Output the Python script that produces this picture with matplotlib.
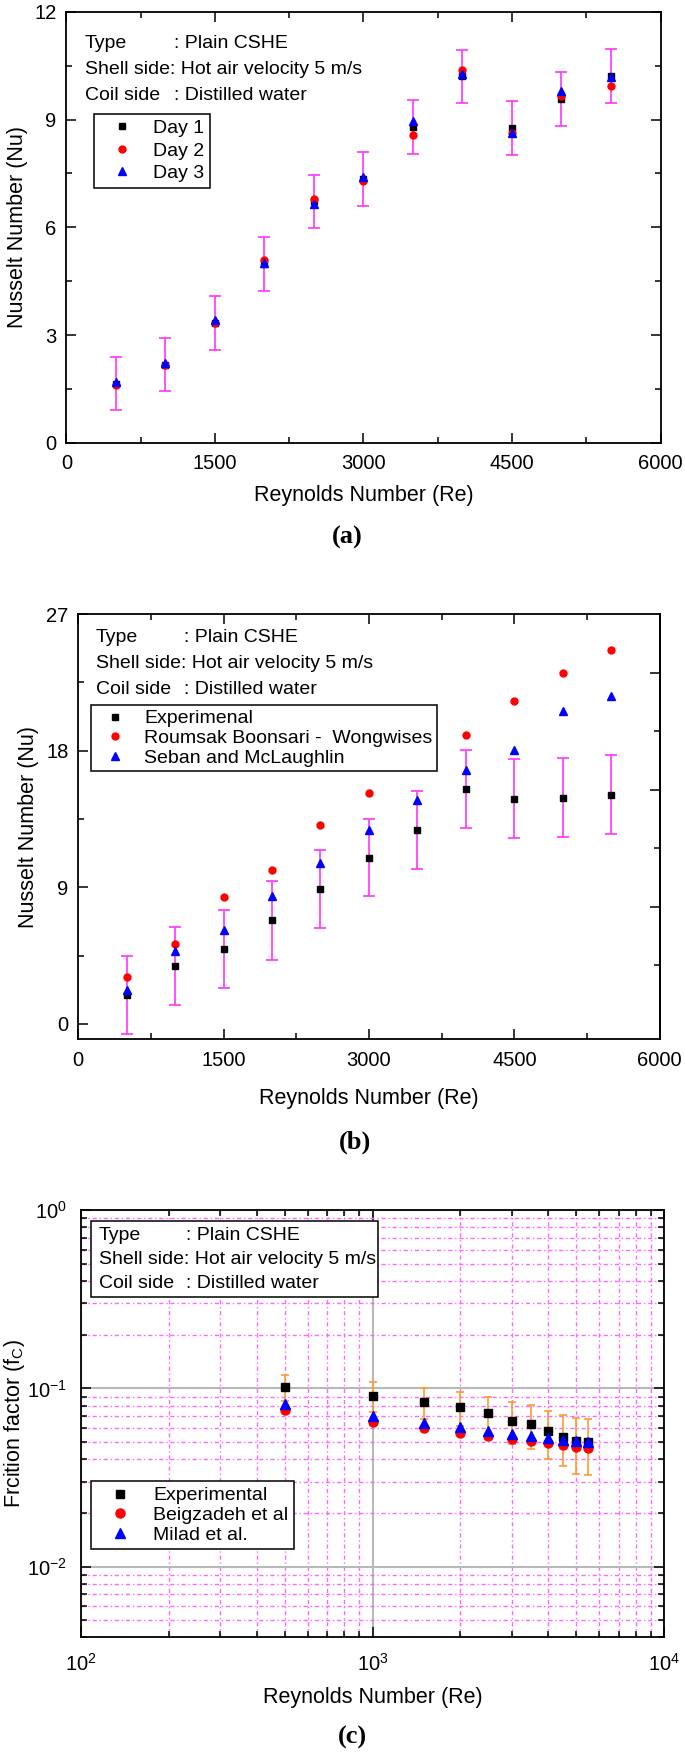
import numpy as np
import matplotlib
matplotlib.use("Agg")
import matplotlib.pyplot as plt
from matplotlib.patches import Rectangle
from matplotlib.ticker import MultipleLocator, LogLocator, NullFormatter, FixedLocator

plt.rcParams['font.family'] = ['Liberation Sans', 'DejaVu Sans']
plt.rcParams['mathtext.fontset'] = 'custom'
plt.rcParams['mathtext.rm'] = 'Liberation Sans'
plt.rcParams['mathtext.it'] = 'Liberation Sans:italic'
plt.rcParams['mathtext.default'] = 'regular'

# data
re = [500, 1000, 1500, 2000, 2500, 3000, 3500, 4000, 4500, 5000, 5500]

# (a) repeatability, three days
nu_day1 = [1.65, 2.18, 3.34, 4.98, 6.72, 7.35, 8.79, 10.20, 8.77, 9.56, 10.21]
nu_day2 = [1.62, 2.17, 3.33, 5.10, 6.78, 7.28, 8.57, 10.38, 8.62, 9.66, 9.93]
nu_day3 = [1.69, 2.22, 3.43, 5.00, 6.66, 7.41, 8.97, 10.26, 8.62, 9.80, 10.19]
nu_day1_err = [0.75, 0.75, 0.75, 0.75, 0.75, 0.75, 0.75, 0.75, 0.75, 0.75, 0.75]

# (b) Nusselt number vs correlations
nu_exp = [1.92, 3.83, 4.90, 6.82, 8.89, 10.96, 12.79, 15.47, 14.85, 14.91, 15.10]
nu_exp_err = [2.58, 2.58, 2.57, 2.58, 2.57, 2.56, 2.58, 2.57, 2.58, 2.58, 2.60]
nu_roumsak = [3.08, 5.29, 8.39, 10.15, 13.11, 15.19, np.nan, 19.06, 21.31, 23.12, 24.62]
nu_seban = [2.23, 4.82, 6.18, 8.44, 10.60, 12.75, 14.77, 16.75, 18.07, 20.65, 21.60]

# (c) friction factor
f_exp = [0.1017, 0.0910, 0.0839, 0.0781, 0.0723, 0.0660, 0.0629, 0.0574, 0.0536, 0.0506, 0.0501]
f_exp_err = [0.0172, 0.0170, 0.0170, 0.0170, 0.0175, 0.0175, 0.0175, 0.0174, 0.0171, 0.0175, 0.0176]
f_beig = [0.0754, 0.0650, 0.0602, 0.0565, 0.0539, 0.0518, 0.0504, 0.0494, 0.0480, 0.0471, 0.0464]
f_milad = [0.0819, 0.0702, 0.0638, 0.0608, 0.0579, 0.0557, 0.0542, 0.0526, 0.0516, 0.0506, 0.0501]

W, H = 685, 1754
fig = plt.figure(figsize=(W / 100, H / 100), dpi=100)
fig.patch.set_facecolor('white')

MAGENTA = '#ff33ff'
ORANGE = '#ff9933'
TICK_FS = 14.5
LABEL_FS = 15.5
TEXT_FS = 14


def add_ax(left, top, right, bottom):
    return fig.add_axes([left / W, 1 - bottom / H, (right - left) / W, (bottom - top) / H])


def ftext(x, y, s, **kw):
    fig.text(x / W, 1 - y / H, s, **kw)


def style_ax(ax, tick_pad_x, tick_pad_y):
    for sp in ax.spines.values():
        sp.set_linewidth(1.3)
    ax.tick_params(which='both', direction='in', top=True, right=True,
                   width=1.1, labelsize=TICK_FS)
    ax.tick_params(which='major', length=7)
    ax.tick_params(which='minor', length=4)
    ax.tick_params(axis='x', pad=tick_pad_x)
    ax.tick_params(axis='y', pad=tick_pad_y)


def info_lines(x, ys, colon_dx):
    ftext(x, ys[0], 'Type', fontsize=TEXT_FS, va='center')
    ftext(x + colon_dx, ys[0], ': Plain CSHE', fontsize=TEXT_FS, va='center')
    ftext(x, ys[1], 'Shell side: Hot air velocity 5 m/s', fontsize=TEXT_FS, va='center')
    ftext(x, ys[2], 'Coil side', fontsize=TEXT_FS, va='center')
    ftext(x + colon_dx, ys[2], ': Distilled water', fontsize=TEXT_FS, va='center')


# ---------------- (a) ----------------
ax1 = add_ax(66.4, 11.8, 660.5, 442.8)
ax1.errorbar(re, nu_day1, yerr=nu_day1_err, fmt='none', ecolor=MAGENTA,
             elinewidth=1.2, capsize=4, capthick=1.2, zorder=2)
ax1.plot(re, nu_day1, 's', color='black', ms=4.5, label='Day 1', zorder=3)
ax1.plot(re, nu_day2, 'o', color='red', ms=5, label='Day 2', zorder=4)
ax1.plot(re, nu_day3, '^', color='blue', ms=5.5, label='Day 3', zorder=5)
ax1.set_xlim(0, 6000)
ax1.set_ylim(0, 12)
ax1.xaxis.set_major_locator(MultipleLocator(1500))
ax1.xaxis.set_minor_locator(MultipleLocator(750))
ax1.yaxis.set_major_locator(MultipleLocator(3))
ax1.yaxis.set_minor_locator(MultipleLocator(1.5))
style_ax(ax1, 8, 7)
ax1.set_xlabel('Reynolds Number (Re)', fontsize=LABEL_FS)
ax1.set_ylabel('Nusselt Number (Nu)', fontsize=LABEL_FS)
ax1.xaxis.set_label_coords(0.5, -0.097)
ax1.yaxis.set_label_coords(-0.065, 0.5)
leg = ax1.legend(loc='upper left', bbox_to_anchor=(0.0465, 0.7638), borderaxespad=0,
                 fontsize=TEXT_FS, frameon=True, fancybox=False, edgecolor='black',
                 framealpha=1, handlelength=2.3, handletextpad=0.45, borderpad=0.3,
                 labelspacing=0.25, numpoints=1)
leg.get_frame().set_linewidth(1.1)
info_lines(85, [43, 69, 96], 89)
ftext(347, 537, '(a)', fontsize=19, fontweight='bold', family='Liberation Serif',
      ha='center', va='center')

# ---------------- (b) ----------------
ax2 = add_ax(78.2, 614.2, 659.7, 1039)
ax2.errorbar(re, nu_exp, yerr=nu_exp_err, fmt='none', ecolor=MAGENTA,
             elinewidth=1.2, capsize=4, capthick=1.2, zorder=2)
ax2.plot(re, nu_exp, 's', color='black', ms=4.5, label='Experimenal', zorder=3)
ax2.plot(re, nu_roumsak, 'o', color='red', ms=5, label='Roumsak Boonsari -  Wongwises', zorder=4)
ax2.plot(re, nu_seban, '^', color='blue', ms=5.5, label='Seban and McLaughlin', zorder=5)
ax2.set_xlim(0, 6000)
ax2.set_ylim(-1, 27)
ax2.xaxis.set_major_locator(MultipleLocator(1500))
ax2.xaxis.set_minor_locator(MultipleLocator(750))
ax2.yaxis.set_major_locator(MultipleLocator(9))
ax2.yaxis.set_minor_locator(MultipleLocator(4.5))
style_ax(ax2, 9, 7)
ax2.tick_params(axis='y', which='both', right=False)
# right axis of the original is not linked: 7 divisions over 0..27
sec = ax2.secondary_yaxis('right')
sec.yaxis.set_major_locator(FixedLocator([27 / 7 * k for k in (2, 4, 6)]))
sec.yaxis.set_minor_locator(FixedLocator([27 / 7 * k for k in (1, 3, 5)]))
sec.tick_params(which='both', direction='in', width=1.1, labelright=False)
sec.tick_params(which='major', length=7)
sec.tick_params(which='minor', length=4)
sec.spines['right'].set_linewidth(1.3)
ax2.set_xlabel('Reynolds Number (Re)', fontsize=LABEL_FS)
ax2.set_ylabel('Nusselt Number (Nu)', fontsize=LABEL_FS)
ax2.xaxis.set_label_coords(0.5, -0.115)
ax2.yaxis.set_label_coords(-0.067, 0.5)
leg = ax2.legend(loc='upper left', bbox_to_anchor=(0.0218, 0.7863), borderaxespad=0,
                 fontsize=TEXT_FS, frameon=True, fancybox=False, edgecolor='black',
                 framealpha=1, handlelength=2.0, handletextpad=0.5, borderpad=0.25,
                 labelspacing=0.1, numpoints=1)
leg.get_frame().set_linewidth(1.1)
info_lines(96, [637, 663, 689], 87.5)
ftext(355, 1142, '(b)', fontsize=19, fontweight='bold', family='Liberation Serif',
      ha='center', va='center')

# ---------------- (c) ----------------
ax3 = add_ax(81, 1210.2, 664, 1637.4)
ax3.set_xscale('log')
ax3.set_yscale('log')
ax3.set_xlim(100, 10000)
ax3.set_ylim(0.004, 1)
ax3.xaxis.set_major_locator(LogLocator(base=10))
ax3.xaxis.set_minor_locator(LogLocator(base=10, subs=np.arange(2, 10)))
ax3.yaxis.set_major_locator(LogLocator(base=10))
ax3.yaxis.set_minor_locator(LogLocator(base=10, subs=np.arange(2, 10)))
ax3.xaxis.set_minor_formatter(NullFormatter())
ax3.yaxis.set_minor_formatter(NullFormatter())
ax3.set_axisbelow(True)
ax3.grid(which='major', color='#b8b8b8', linestyle='-', linewidth=1.5)
ax3.grid(which='minor', color='#ff66ff', linestyle=(0, (3, 2, 1, 2)), linewidth=1)
ax3.errorbar(re, f_exp, yerr=f_exp_err, fmt='none', ecolor=ORANGE,
             elinewidth=1.2, capsize=3, capthick=1.2, zorder=2)
ax3.plot(re, f_exp, 's', color='black', ms=6, label='Experimental', zorder=3)
ax3.plot(re, f_beig, 'o', color='red', ms=6.5, label='Beigzadeh et al', zorder=4)
ax3.plot(re, f_milad, '^', color='blue', ms=6.5, label='Milad et al.', zorder=5)
style_ax(ax3, 11, 10)
ax3.set_xlabel('Reynolds Number (Re)', fontsize=LABEL_FS)
ax3.set_ylabel('Frcition factor (f$_C$)', fontsize=LABEL_FS)
ax3.xaxis.set_label_coords(0.5, -0.117)
ax3.yaxis.set_label_coords(-0.093, 0.5)
leg = ax3.legend(loc='upper left', bbox_to_anchor=(0.017, 0.3661), borderaxespad=0,
                 fontsize=TEXT_FS, frameon=True, fancybox=False, edgecolor='black',
                 framealpha=1, handlelength=2.4, handletextpad=0.5, borderpad=0.3,
                 labelspacing=0.1, numpoints=1)
leg.get_frame().set_linewidth(1.1)
leg.set_zorder(10)
ax3.add_patch(Rectangle((0.017, 0.7978), 0.4924, 0.1769, transform=ax3.transAxes,
                        facecolor='white', edgecolor='black', linewidth=1.1, zorder=6))
info_lines(98.7, [1235, 1259.4, 1283.6], 87)
ftext(352, 1737, '(c)', fontsize=19, fontweight='bold', family='Liberation Serif',
      ha='center', va='center')

fig.savefig('out.png', dpi=100)
